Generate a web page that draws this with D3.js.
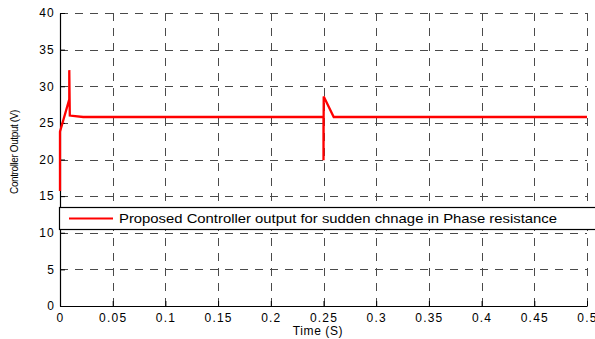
<!DOCTYPE html>
<meta charset="utf-8">
<style>
  body { margin: 0; background: #fff; }
  text { font-family: Arial, "Liberation Sans", sans-serif; }
</style>
<svg width="595" height="339"></svg>
<script src="https://cdn.jsdelivr.net/npm/d3@7"></script>
<script>

    // controller output trace (time in s, output in V)
    var time   = [0, 0, 0.0088, 0.0088, 0.0093, 0.022, 0.25, 0.25, 0.2502, 0.2597, 0.5];
    var output = [15.7, 23.8, 28.2, 32.2, 26.0, 25.8, 25.8, 19.9, 28.6, 25.8, 25.8];

    var xTicks = [0, 0.05, 0.1, 0.15, 0.2, 0.25, 0.3, 0.35, 0.4, 0.45, 0.5];
    var yTicks = [0, 5, 10, 15, 20, 25, 30, 35, 40];
    var legendLabel = "Proposed Controller output for sudden chnage in Phase resistance";

    var svg = d3.select("svg"),
        pLeft = 60, pRight = 587, pTop = 13, pBottom = 306;

    var x = d3.scaleLinear().domain([0, 0.5]).range([pLeft, pRight]);
    var y = d3.scaleLinear().domain([0, 40]).range([pBottom, pTop]);

    // dashed grid
    var grid = svg.append("g")
        .attr("stroke", "#4a4a4a")
        .attr("stroke-width", 1)
        .attr("stroke-dasharray", "8,7");

    grid.selectAll(".gx").data(xTicks.slice(1)).enter().append("line")
        .attr("x1", function (d) { return Math.round(x(d)) + 0.5; })
        .attr("x2", function (d) { return Math.round(x(d)) + 0.5; })
        .attr("y1", pBottom).attr("y2", pTop);

    grid.selectAll(".gy").data(yTicks.slice(1)).enter().append("line")
        .attr("y1", function (d) { return Math.round(y(d)) + 0.5; })
        .attr("y2", function (d) { return Math.round(y(d)) + 0.5; })
        .attr("x1", pLeft).attr("x2", pRight);

    // axes with inward ticks
    var xAxis = svg.append("g")
        .attr("transform", "translate(0," + pBottom + ")")
        .call(d3.axisBottom(x).tickValues(xTicks).tickSizeInner(-5).tickSizeOuter(0)
            .tickFormat(function (d) { return d3.format("")(d); }));
    xAxis.selectAll("text").attr("y", 7).attr("font-size", 12)
        .attr("letter-spacing", 1.2).attr("fill", "#000");

    var yAxis = svg.append("g")
        .attr("transform", "translate(" + pLeft + ",0)")
        .call(d3.axisLeft(y).tickValues(yTicks).tickSizeInner(-5).tickSizeOuter(0));
    yAxis.selectAll("text").attr("x", -5).attr("font-size", 12)
        .attr("letter-spacing", 1.2).attr("fill", "#000");

    svg.selectAll(".domain").attr("stroke", "#000").attr("stroke-width", 1.2);
    svg.selectAll(".tick line").attr("stroke", "#000");

    // trace
    var line = d3.line()
        .x(function (d, i) { return x(time[i]); })
        .y(function (d) { return y(d); });

    svg.append("path")
        .datum(output)
        .attr("d", line)
        .attr("fill", "none")
        .attr("stroke", "#ff0000")
        .attr("stroke-width", 2.3);

    // legend
    var lg = svg.append("g");
    lg.append("rect")
        .attr("x", 59.5).attr("y", 207.5)
        .attr("width", 540).attr("height", 22)
        .attr("fill", "#fff").attr("stroke", "#000").attr("stroke-width", 1.2);
    lg.append("line")
        .attr("x1", 69).attr("x2", 113).attr("y1", 218.5).attr("y2", 218.5)
        .attr("stroke", "#ff0000").attr("stroke-width", 2);
    lg.append("text")
        .attr("x", 119).attr("y", 223)
        .attr("font-size", 13)
        .attr("textLength", 438)
        .attr("lengthAdjust", "spacingAndGlyphs")
        .text(legendLabel);

    // axis titles
    svg.append("text")
        .attr("x", 318).attr("y", 335)
        .attr("text-anchor", "middle").attr("font-size", 12)
        .attr("letter-spacing", 0.6)
        .text("Time (S)");

    svg.append("text")
        .attr("transform", "translate(18,152) rotate(-90)")
        .attr("text-anchor", "middle").attr("font-size", 10)
        .attr("letter-spacing", -0.4)
        .text("Controller Output (V)");

</script>
